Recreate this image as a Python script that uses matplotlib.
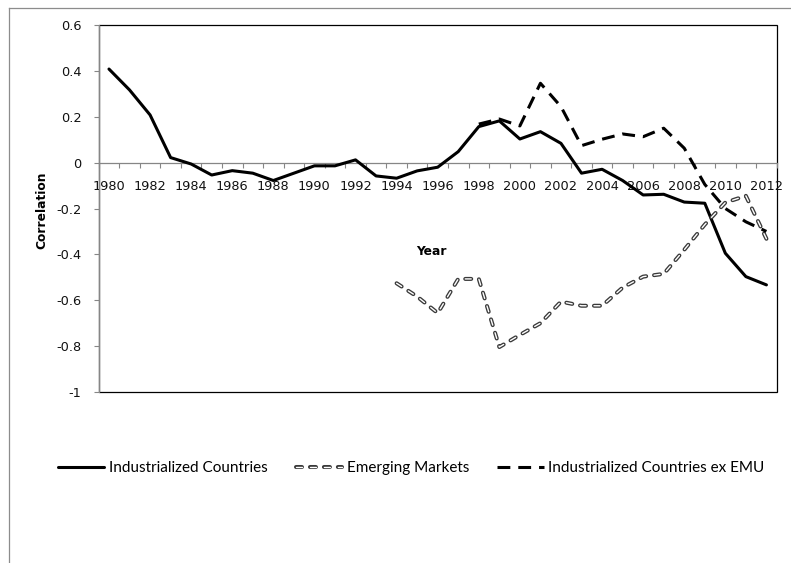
import matplotlib
matplotlib.use('Agg')
import matplotlib.pyplot as plt
import matplotlib.patheffects as pe
from matplotlib.lines import Line2D
from matplotlib.patches import Rectangle

# ---------------- data ----------------
years = list(range(1980, 2013))
industrialized = [0.408, 0.317, 0.208, 0.022, -0.006, -0.054, -0.035, -0.046, -0.078,
                  -0.046, -0.014, -0.014, 0.012, -0.058, -0.068, -0.036, -0.020, 0.048,
                  0.157, 0.182, 0.103, 0.135, 0.084, -0.046, -0.029, -0.078, -0.141,
                  -0.138, -0.172, -0.177, -0.395, -0.497, -0.533]

em_years = list(range(1994, 2013))
emerging = [-0.526, -0.584, -0.656, -0.507, -0.507, -0.804, -0.751, -0.700, -0.606,
            -0.624, -0.624, -0.545, -0.497, -0.485, -0.380, -0.270, -0.174, -0.145, -0.332]

exemu_years = list(range(1998, 2013))
ex_emu = [0.168, 0.190, 0.160, 0.346, 0.244, 0.074, 0.102, 0.125, 0.113, 0.150,
          0.063, -0.095, -0.200, -0.258, -0.300]

series_labels = ['Industrialized Countries', 'Emerging Markets',
                 'Industrialized Countries ex EMU']
ytick_values = [-1, -0.8, -0.6, -0.4, -0.2, 0, 0.2, 0.4, 0.6]
ytick_labels = ['-1', '-0.8', '-0.6', '-0.4', '-0.2', '0', '0.2', '0.4', '0.6']
xtick_years = list(range(1980, 2013, 2))
xtick_labels = [str(y) for y in xtick_years]

# ---------------- figure ----------------
W, H = 791, 563
fig = plt.figure(figsize=(W / 100, H / 100), dpi=100)
fig.patch.set_facecolor('white')

# outer chart border (top and left visible)
fig.add_artist(Line2D([8.5 / W, 1.0], [1 - 7.5 / H, 1 - 7.5 / H],
                      transform=fig.transFigure, color='#8c8c8c', lw=0.9))
fig.add_artist(Line2D([8.5 / W, 8.5 / W], [0, 1 - 7.5 / H],
                      transform=fig.transFigure, color='#8c8c8c', lw=0.9))

left, right, top, bottom = 98.7, 776.7, 25.0, 392.0
ax = fig.add_axes([left / W, 1 - bottom / H, (right - left) / W, (bottom - top) / H])
ax.set_xlim(1979.5, 2012.5)
ax.set_ylim(-1, 0.6)

gray = '#868686'
# spines
for s in ['top', 'right']:
    ax.spines[s].set_visible(False)
ax.spines['bottom'].set_position(('data', 0))
ax.spines['bottom'].set_color(gray)
ax.spines['bottom'].set_linewidth(0.9)
ax.spines['left'].set_color(gray)
ax.spines['left'].set_linewidth(0.9)
ax.spines['left'].set_zorder(3)
ax.add_patch(Rectangle((0, 0), 1, 1, transform=ax.transAxes, fill=False,
                       edgecolor='black', lw=0.9, zorder=0.5, clip_on=False))

# ticks
ax.set_yticks(ytick_values)
ax.set_yticklabels(ytick_labels)
ax.tick_params(axis='y', direction='out', length=3.6, width=0.8, color=gray,
               pad=8.8, labelsize=9.3, labelcolor='#111111')
ax.set_xticks(xtick_years)
ax.set_xticklabels(xtick_labels)
ax.set_xticks([y + 0.5 for y in range(1979, 2013)], minor=True)
ax.tick_params(axis='x', which='major', length=0, pad=12.5, labelsize=9.3,
               labelcolor='#111111')
ax.tick_params(axis='x', which='minor', direction='out', length=3.6, width=0.8,
               color=gray)

# series
ax.plot(years, industrialized, color='black', lw=2.2, solid_capstyle='round',
        solid_joinstyle='round', label=series_labels[0], zorder=3)
ax.plot(em_years, emerging, color='white', lw=1.0, dashes=(4.3, 5.75),
        dash_capstyle='round', dash_joinstyle='round', label=series_labels[1],
        path_effects=[pe.Stroke(linewidth=2.9, foreground='#3a3a3a'), pe.Normal()],
        zorder=3)
ax.plot(exemu_years, ex_emu, color='black', lw=2.2, dashes=(4.2, 2.6),
        label=series_labels[2], zorder=3)

# axis titles
fig.text(41.7 / W, 1 - 210 / H, 'Correlation', rotation=90, ha='center', va='center',
         fontsize=8.8, fontweight='bold', family='DejaVu Sans')
fig.text(431 / W, 1 - 252 / H, 'Year', ha='center', va='center',
         fontsize=8.8, fontweight='bold', family='DejaVu Sans')

# legend
fs = 11
handles, labels = ax.get_legend_handles_labels()
leg = fig.legend(handles, labels, loc='center', bbox_to_anchor=(411 / W, 1 - 468 / H),
                 ncol=3, frameon=False, prop={'family': 'Lato', 'size': fs},
                 handlelength=3.05, handletextpad=0.28, columnspacing=1.85)

fig.savefig('out.png', dpi=100, facecolor='white')
